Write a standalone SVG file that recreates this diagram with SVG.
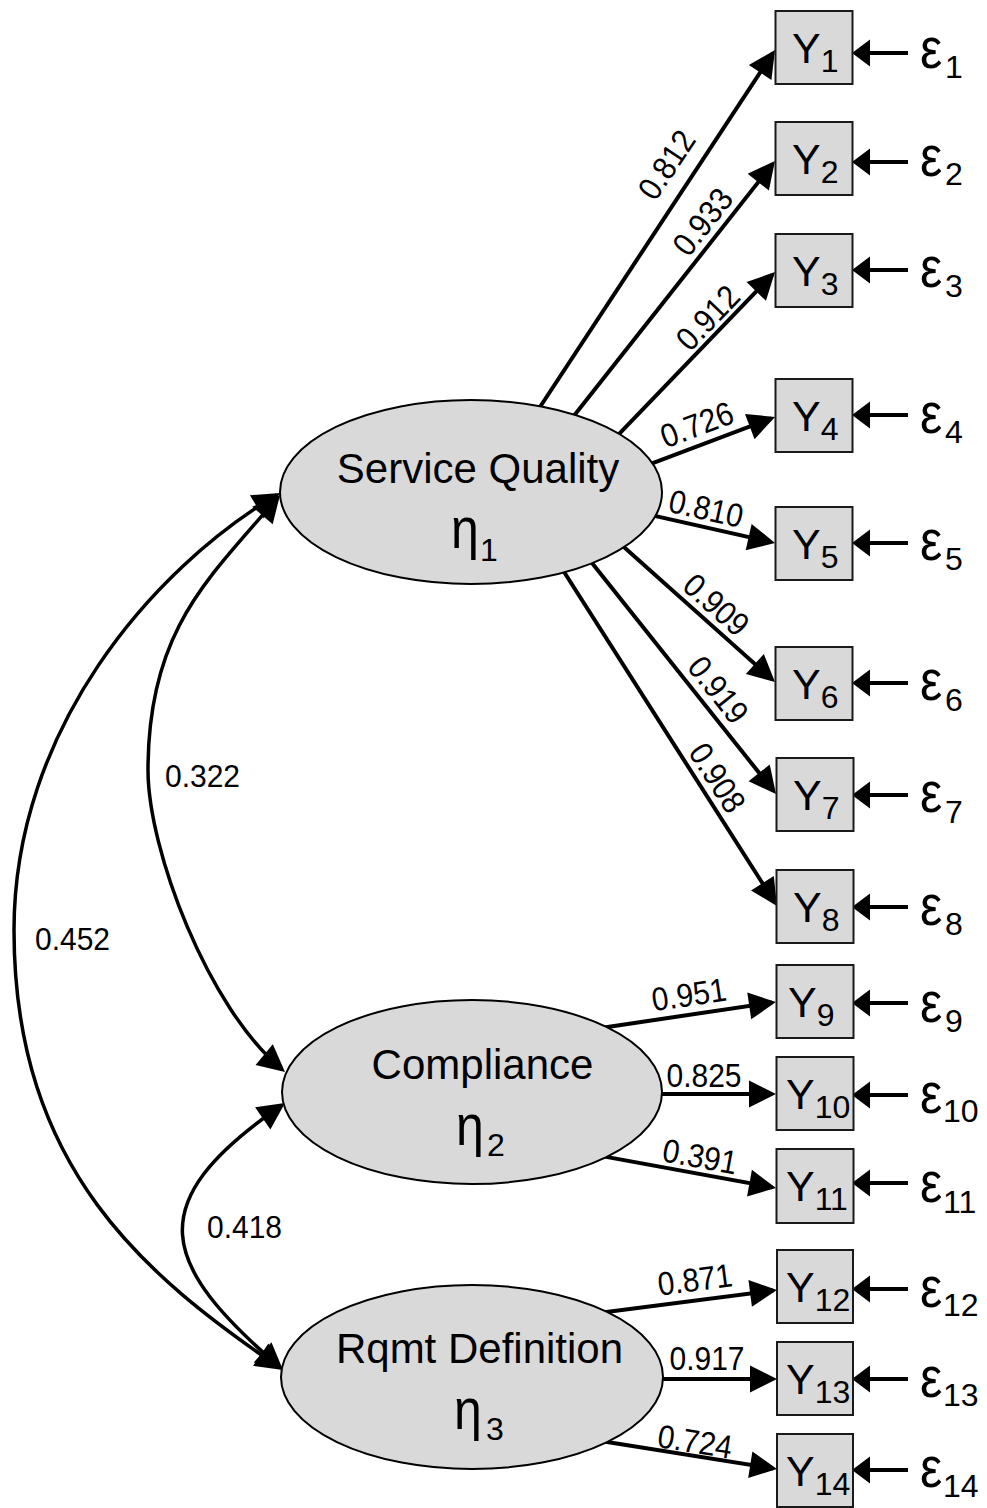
<svg xmlns="http://www.w3.org/2000/svg" width="987" height="1508" viewBox="0 0 987 1508">
  <style>
    text { font-family: "Liberation Sans", Arial, sans-serif; fill: #000; }
    .lbl { font-size: 30px; }
    .nm { font-size: 42px; }
    .yv { font-size: 43px; }
    .sub { font-size: 32px; }
    .gk { font-size: 50px; }
    .ln { stroke: #000; stroke-width: 4; fill: none; marker-end: url(#ah); }
    .cv { stroke: #000; stroke-width: 3.5; fill: none; marker-start: url(#ah); marker-end: url(#ah); }
    .er { stroke: #000; stroke-width: 4; fill: none; marker-end: url(#ahe); }
    .box { fill: #d9d9d9; stroke: #1a1a1a; stroke-width: 2; }
    .lat { fill: #d9d9d9; stroke: #000; stroke-width: 2; }
  </style>
  <defs>
    <!-- tip sits 4px past the path end so the stroke stays hidden under the head -->
    <marker id="ah" markerUnits="userSpaceOnUse" orient="auto-start-reverse" viewBox="-24 -14 30 28" markerWidth="30" markerHeight="28" refX="0" refY="0">
      <path d="M4,0 L-23,-13.5 L-23,13.5 Z" fill="#000"/>
    </marker>
    <marker id="ahe" markerUnits="userSpaceOnUse" orient="auto" viewBox="-15 -14 20 28" markerWidth="20" markerHeight="28" refX="0" refY="0">
      <path d="M4,0 L-14,-13.5 L-14,13.5 Z" fill="#000"/>
    </marker>
  </defs>

  <!-- connectors: loadings, covariances, error terms -->
  <g id="connectors">
    <path class="ln" d="M523.5,432 L772.8,53.3"/>
    <path class="ln" d="M558.4,435.6 L772.5,164.1"/>
    <path class="ln" d="M599.2,454.6 L772.2,274.9"/>
    <path class="ln" d="M625,473.6 L771.3,418.4"/>
    <path class="ln" d="M625.7,509.4 L771.1,542.1"/>
    <path class="ln" d="M602.6,528 L772,679.3"/>
    <path class="ln" d="M573.3,539.5 L773.5,790.9"/>
    <path class="ln" d="M549.9,549.7 L774.8,902.6"/>
    <path class="ln" d="M577.3,1031.4 L772,1002.6"/>
    <path class="ln" d="M630,1094 L772,1094"/>
    <path class="ln" d="M577.5,1151.6 L772.1,1187.3"/>
    <path class="ln" d="M577.2,1315.8 L773,1290.5"/>
    <path class="ln" d="M630,1379 L773,1379"/>
    <path class="ln" d="M577.4,1437.3 L773,1468.4"/>

    <path class="cv" d="M277.4,498 C208.5,578.6 148,630 148,770 C148,850 208,1008 281.9,1069.4"/>
    <path class="cv" d="M276.6,495 C151,570 14,730 14,930 C14,1170 147,1276.5 279.7,1367.7"/>
    <path class="cv" d="M281.7,1105.3 C138,1204 161.5,1264.7 280,1367.4"/>

    <path class="er" d="M908,53 L856,53"/>
    <path class="er" d="M908,162 L856,162"/>
    <path class="er" d="M908,270 L856,270"/>
    <path class="er" d="M908,415 L856,415"/>
    <path class="er" d="M908,543 L856,543"/>
    <path class="er" d="M908,683 L856,683"/>
    <path class="er" d="M908,795 L856,795"/>
    <path class="er" d="M908,907 L856,907"/>
    <path class="er" d="M908,1003 L856,1003"/>
    <path class="er" d="M908,1095 L856,1095"/>
    <path class="er" d="M908,1183 L856,1183"/>
    <path class="er" d="M908,1289 L856,1289"/>
    <path class="er" d="M908,1379 L856,1379"/>
    <path class="er" d="M908,1470 L856,1470"/>
  </g>

  <!-- path coefficients -->
  <g id="labels">
    <text class="lbl" text-anchor="middle" y="10" transform="translate(667,165) rotate(-56.3) scale(1,1.1)">0.812</text>
    <text class="lbl" text-anchor="middle" y="10" transform="translate(703,222) rotate(-51.9) scale(1,1.1)">0.933</text>
    <text class="lbl" text-anchor="middle" y="10" transform="translate(708,318) rotate(-46.1) scale(1,1.1)">0.912</text>
    <text class="lbl" text-anchor="middle" y="10" transform="translate(697,425) rotate(-20.7) scale(1,1.1)">0.726</text>
    <text class="lbl" text-anchor="middle" y="10" transform="translate(706,509) rotate(12.6) scale(1,1.1)">0.810</text>
    <text class="lbl" text-anchor="middle" y="10" transform="translate(716,605) rotate(41.8) scale(1,1.1)">0.909</text>
    <text class="lbl" text-anchor="middle" y="10" transform="translate(718,690) rotate(51.5) scale(1,1.1)">0.919</text>
    <text class="lbl" text-anchor="middle" y="10" transform="translate(717,778) rotate(57.5) scale(1,1.1)">0.908</text>
    <text class="lbl" text-anchor="middle" y="10" transform="translate(689,995) rotate(-8.4) scale(1,1.1)">0.951</text>
    <text class="lbl" text-anchor="middle" y="10" transform="translate(704,1076) scale(1,1.1)">0.825</text>
    <text class="lbl" text-anchor="middle" y="10" transform="translate(700,1157) rotate(10.4) scale(1,1.1)">0.391</text>
    <text class="lbl" text-anchor="middle" y="10" transform="translate(695,1280) rotate(-7.4) scale(1,1.1)">0.871</text>
    <text class="lbl" text-anchor="middle" y="10" transform="translate(707,1359) scale(1,1.1)">0.917</text>
    <text class="lbl" text-anchor="middle" y="10" transform="translate(695,1442) rotate(9) scale(1,1.1)">0.724</text>
    <text class="lbl" transform="translate(165,787) scale(1,1.05)">0.322</text>
    <text class="lbl" transform="translate(35,950) scale(1,1.05)">0.452</text>
    <text class="lbl" transform="translate(207,1238) scale(1,1.05)">0.418</text>
  </g>

  <!-- latent factors -->
  <g id="eta1">
    <ellipse class="lat" cx="471" cy="492" rx="191" ry="92"/>
    <text class="nm" x="478" y="483" text-anchor="middle">Service Quality</text>
    <text class="gk" transform="translate(451,548) scale(1,1.15)">η</text>
    <text class="sub" x="480" y="561">1</text>
  </g>
  <g id="eta2">
    <ellipse class="lat" cx="472" cy="1092" rx="190" ry="92"/>
    <text class="nm" x="482.5" y="1079" text-anchor="middle">Compliance</text>
    <text class="gk" transform="translate(456,1145) scale(1,1.15)">η</text>
    <text class="sub" x="487" y="1156">2</text>
  </g>
  <g id="eta3">
    <ellipse class="lat" cx="472" cy="1377" rx="191" ry="92"/>
    <text class="nm" x="479.5" y="1363" text-anchor="middle">Rqmt Definition</text>
    <text class="gk" transform="translate(454,1429) scale(1,1.15)">η</text>
    <text class="sub" x="486" y="1440">3</text>
  </g>

  <!-- observed indicators -->
  <g id="y1"><rect class="box" x="775.5" y="11" width="77" height="73"/><text class="yv" x="792" y="63">Y<tspan class="sub" dy="9">1</tspan></text></g>
  <g id="y2"><rect class="box" x="775.5" y="122" width="77" height="73"/><text class="yv" x="792" y="174">Y<tspan class="sub" dy="9">2</tspan></text></g>
  <g id="y3"><rect class="box" x="775.5" y="234" width="77" height="73"/><text class="yv" x="792" y="286">Y<tspan class="sub" dy="9">3</tspan></text></g>
  <g id="y4"><rect class="box" x="775.5" y="379" width="77" height="73"/><text class="yv" x="792" y="431">Y<tspan class="sub" dy="9">4</tspan></text></g>
  <g id="y5"><rect class="box" x="775.5" y="507" width="77" height="73"/><text class="yv" x="792" y="559">Y<tspan class="sub" dy="9">5</tspan></text></g>
  <g id="y6"><rect class="box" x="775.5" y="647" width="77" height="73"/><text class="yv" x="792" y="699">Y<tspan class="sub" dy="9">6</tspan></text></g>
  <g id="y7"><rect class="box" x="776.5" y="758" width="77" height="73"/><text class="yv" x="793" y="810">Y<tspan class="sub" dy="9">7</tspan></text></g>
  <g id="y8"><rect class="box" x="776.5" y="870" width="77" height="73"/><text class="yv" x="793" y="922">Y<tspan class="sub" dy="9">8</tspan></text></g>
  <g id="y9"><rect class="box" x="776.5" y="965" width="77" height="73"/><text class="yv" x="788" y="1017">Y<tspan class="sub" dy="9">9</tspan></text></g>
  <g id="y10"><rect class="box" x="776.5" y="1057" width="77" height="73"/><text class="yv" x="786" y="1109">Y<tspan class="sub" dy="9">10</tspan></text></g>
  <g id="y11"><rect class="box" x="776.5" y="1149" width="77" height="74"/><text class="yv" x="786" y="1201">Y<tspan class="sub" dy="9">11</tspan></text></g>
  <g id="y12"><rect class="box" x="777" y="1250" width="76" height="73"/><text class="yv" x="786" y="1302">Y<tspan class="sub" dy="9">12</tspan></text></g>
  <g id="y13"><rect class="box" x="777" y="1342" width="76" height="73"/><text class="yv" x="786" y="1394">Y<tspan class="sub" dy="9">13</tspan></text></g>
  <g id="y14"><rect class="box" x="777" y="1434" width="76" height="73"/><text class="yv" x="786" y="1486">Y<tspan class="sub" dy="9">14</tspan></text></g>

  <!-- error terms -->
  <g id="errors">
    <g id="e1"><text class="gk" transform="translate(920,68) scale(1,1.15)">ε</text><text class="sub" x="945" y="78">1</text></g>
    <g id="e2"><text class="gk" transform="translate(920,176) scale(1,1.15)">ε</text><text class="sub" x="945" y="185">2</text></g>
    <g id="e3"><text class="gk" transform="translate(920,287) scale(1,1.15)">ε</text><text class="sub" x="945" y="297">3</text></g>
    <g id="e4"><text class="gk" transform="translate(920,433) scale(1,1.15)">ε</text><text class="sub" x="945" y="443">4</text></g>
    <g id="e5"><text class="gk" transform="translate(920,560) scale(1,1.15)">ε</text><text class="sub" x="945" y="570">5</text></g>
    <g id="e6"><text class="gk" transform="translate(920,700) scale(1,1.15)">ε</text><text class="sub" x="945" y="711">6</text></g>
    <g id="e7"><text class="gk" transform="translate(920,812) scale(1,1.15)">ε</text><text class="sub" x="945" y="823">7</text></g>
    <g id="e8"><text class="gk" transform="translate(920,925) scale(1,1.15)">ε</text><text class="sub" x="945" y="935">8</text></g>
    <g id="e9"><text class="gk" transform="translate(920,1022) scale(1,1.15)">ε</text><text class="sub" x="945" y="1032">9</text></g>
    <g id="e10"><text class="gk" transform="translate(920,1113) scale(1,1.15)">ε</text><text class="sub" x="943" y="1122">10</text></g>
    <g id="e11"><text class="gk" transform="translate(920,1202) scale(1,1.15)">ε</text><text class="sub" x="943" y="1213">11</text></g>
    <g id="e12"><text class="gk" transform="translate(920,1307) scale(1,1.15)">ε</text><text class="sub" x="943" y="1316">12</text></g>
    <g id="e13"><text class="gk" transform="translate(920,1397) scale(1,1.15)">ε</text><text class="sub" x="943" y="1406">13</text></g>
    <g id="e14"><text class="gk" transform="translate(920,1487) scale(1,1.15)">ε</text><text class="sub" x="943" y="1497">14</text></g>
  </g>
</svg>
